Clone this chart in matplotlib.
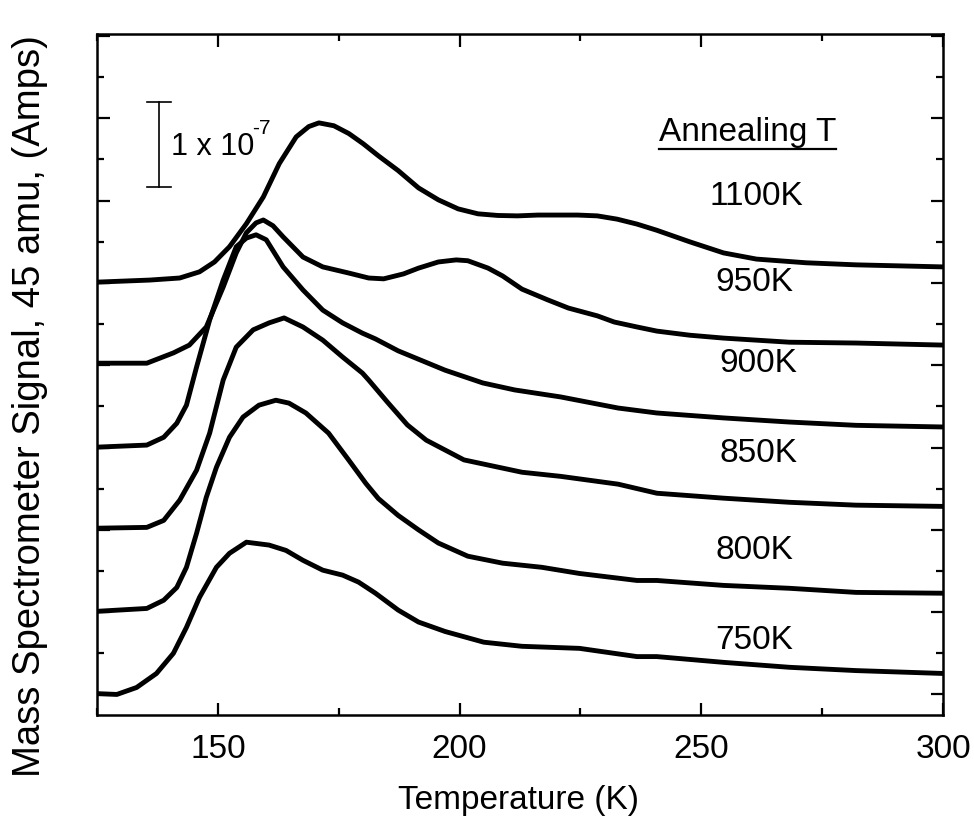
import numpy as np
import matplotlib
matplotlib.use("Agg")
import matplotlib.pyplot as plt
from matplotlib.ticker import MultipleLocator, NullFormatter

plt.rcParams['font.family'] = ['Liberation Sans', 'DejaVu Sans']
plt.rcParams['mathtext.fontset'] = 'custom'
plt.rcParams['mathtext.rm'] = 'Liberation Sans'
plt.rcParams['mathtext.it'] = 'Liberation Sans'

# signal in units of one y tick (curves offset by 2 ticks each)
t_1100 = [125.0, 135.9, 142.1, 146.2, 149.3, 152.4, 155.9, 159.4, 162.7, 166.2, 168.8, 170.9,
          174.0, 177.1, 180.1, 183.2, 187.3, 191.5, 195.6, 199.7, 203.8, 207.9, 212.0, 216.2,
          220.3, 224.4, 228.5, 232.6, 236.7, 240.8, 247.6, 254.6, 261.4, 271.7, 282.0, 300.0]
s_1100 = [10.02, 10.07, 10.12, 10.27, 10.51, 10.88, 11.44, 12.09, 12.90, 13.55, 13.80, 13.89,
          13.82, 13.63, 13.38, 13.09, 12.73, 12.31, 12.02, 11.80, 11.68, 11.64, 11.63, 11.65,
          11.65, 11.65, 11.63, 11.55, 11.43, 11.28, 11.00, 10.73, 10.58, 10.49, 10.44, 10.39]

t_950 = [125.0, 135.3, 140.8, 144.1, 147.6, 151.1, 153.8, 155.9, 157.9, 159.4, 161.4, 163.5,
         167.6, 171.7, 177.1, 181.2, 184.3, 188.4, 191.5, 195.6, 199.3, 201.7, 205.9, 208.9,
         212.9, 218.2, 222.5, 228.5, 232.0, 236.7, 240.8, 247.6, 254.6, 268.2, 282.0, 300.0]
s_950 = [8.05, 8.05, 8.30, 8.49, 8.93, 9.90, 10.73, 11.22, 11.46, 11.53, 11.39, 11.12,
         10.63, 10.39, 10.24, 10.12, 10.10, 10.22, 10.36, 10.51, 10.56, 10.54, 10.36, 10.17,
         9.85, 9.59, 9.39, 9.20, 9.05, 8.93, 8.83, 8.73, 8.66, 8.56, 8.54, 8.49]

t_900 = [125.0, 135.3, 138.8, 141.5, 143.5, 145.6, 148.3, 151.1, 153.8, 155.9, 157.9, 160.0,
         163.5, 167.6, 171.7, 175.8, 179.9, 182.6, 187.3, 197.0, 204.8, 211.4, 220.9, 232.8,
         240.8, 254.6, 268.2, 282.0, 300.0]
s_900 = [6.01, 6.06, 6.25, 6.59, 7.03, 7.96, 9.10, 10.07, 10.88, 11.09, 11.17, 11.05,
         10.39, 9.83, 9.34, 9.03, 8.78, 8.64, 8.35, 7.88, 7.57, 7.40, 7.23, 6.96,
         6.84, 6.72, 6.62, 6.54, 6.50]

t_850 = [125.0, 135.3, 138.8, 142.1, 145.6, 148.3, 151.1, 153.8, 157.3, 160.6, 163.7, 167.6,
         171.7, 175.8, 179.9, 181.2, 185.1, 189.2, 193.1, 200.9, 212.9, 220.9, 232.8, 240.8,
         254.6, 268.2, 282.0, 300.0]
s_850 = [4.04, 4.06, 4.23, 4.72, 5.45, 6.35, 7.64, 8.44, 8.86, 9.03, 9.15, 8.93,
         8.61, 8.20, 7.81, 7.64, 7.10, 6.55, 6.18, 5.70, 5.40, 5.30, 5.11, 4.89,
         4.77, 4.67, 4.60, 4.57]

t_800 = [125.0, 135.3, 138.8, 141.5, 143.5, 145.6, 147.6, 149.7, 152.4, 155.2, 158.5, 162.0,
         164.7, 168.2, 172.9, 177.1, 180.6, 183.2, 187.3, 191.5, 195.6, 201.7, 208.9,
         217.0, 224.8, 236.7, 240.8, 254.6, 268.2, 282.0, 300.0]
s_800 = [2.02, 2.09, 2.29, 2.60, 3.09, 3.92, 4.79, 5.52, 6.25, 6.74, 7.03, 7.15,
         7.08, 6.84, 6.35, 5.69, 5.13, 4.76, 4.35, 4.00, 3.68, 3.36, 3.19,
         3.09, 2.94, 2.77, 2.77, 2.65, 2.58, 2.48, 2.46]

t_750 = [125.0, 129.1, 133.2, 137.3, 140.8, 143.5, 146.2, 149.7, 152.4, 155.9, 160.6, 164.1,
         167.6, 171.7, 175.8, 179.1, 182.6, 187.3, 191.5, 197.0, 205.0, 212.9, 224.8, 236.7, 240.8,
         254.6, 268.2, 282.0, 300.0]
s_750 = [0.02, 0.00, 0.17, 0.51, 1.00, 1.63, 2.36, 3.09, 3.43, 3.70, 3.63, 3.50,
         3.26, 3.02, 2.90, 2.73, 2.46, 2.05, 1.76, 1.53, 1.27, 1.17, 1.12, 0.92, 0.92,
         0.78, 0.66, 0.58, 0.51]

curves = [(t_1100, s_1100), (t_950, s_950), (t_900, s_900),
          (t_850, s_850), (t_800, s_800), (t_750, s_750)]
labels = ["1100K", "950K", "900K", "850K", "800K", "750K"]
label_t = [261.4, 261.0, 261.8, 261.8, 261.0, 261.0]
label_y = [12.09, 10.0, 8.05, 5.86, 3.50, 1.31]

fig = plt.figure(figsize=(9.74, 8.25), dpi=100)
ax = fig.add_axes([0.0996, 0.1333, 0.8686, 0.8255])

for t, s in curves:
    ax.plot(t, s, color='black', lw=3.5, solid_joinstyle='round', solid_capstyle='round')

for lab, x, y in zip(labels, label_t, label_y):
    ax.text(x, y, lab, fontsize=24, ha='center', va='center')

ax.text(259.6, 13.65, "Annealing T", fontsize=24, ha='center', va='center')
ax.plot([241.3, 277.9], [13.26, 13.26], color='black', lw=1.6)

# scale bar
bar_t, bar_lo, bar_hi, cap = 137.8, 12.34, 14.40, 2.5
ax.plot([bar_t, bar_t], [bar_lo, bar_hi], color='black', lw=1.2)
ax.plot([bar_t - cap, bar_t + cap], [bar_lo, bar_lo], color='black', lw=1.2)
ax.plot([bar_t - cap, bar_t + cap], [bar_hi, bar_hi], color='black', lw=1.2)
ax.text(140.3, 13.3, "1 x 10", fontsize=22, ha='left', va='center')
ax.text(157.0, 13.75, "-7", fontsize=15, ha='left', va='center')

ax.set_xlim(125, 300)
ax.set_ylim(-0.5, 16.05)
ax.xaxis.set_major_locator(MultipleLocator(50))
ax.xaxis.set_minor_locator(MultipleLocator(25))
ax.yaxis.set_major_locator(MultipleLocator(2))
ax.yaxis.set_minor_locator(MultipleLocator(1))
ax.yaxis.set_major_formatter(NullFormatter())
ax.tick_params(which='both', direction='in', top=True, right=True, width=1.6)
ax.tick_params(which='major', length=9, labelsize=24, pad=14)
ax.tick_params(which='minor', length=5)
for sp in ax.spines.values():
    sp.set_linewidth(1.8)

fig.text(518 / 974, 1 - 800 / 825, "Temperature (K)", fontsize=24, ha='center', va='center')
fig.text(30 / 974, 1 - 406 / 825, "Mass Spectrometer Signal, 45 amu, (Amps)", fontsize=27.5,
         ha='center', va='center', rotation=90)

fig.savefig("out.png", dpi=100)
